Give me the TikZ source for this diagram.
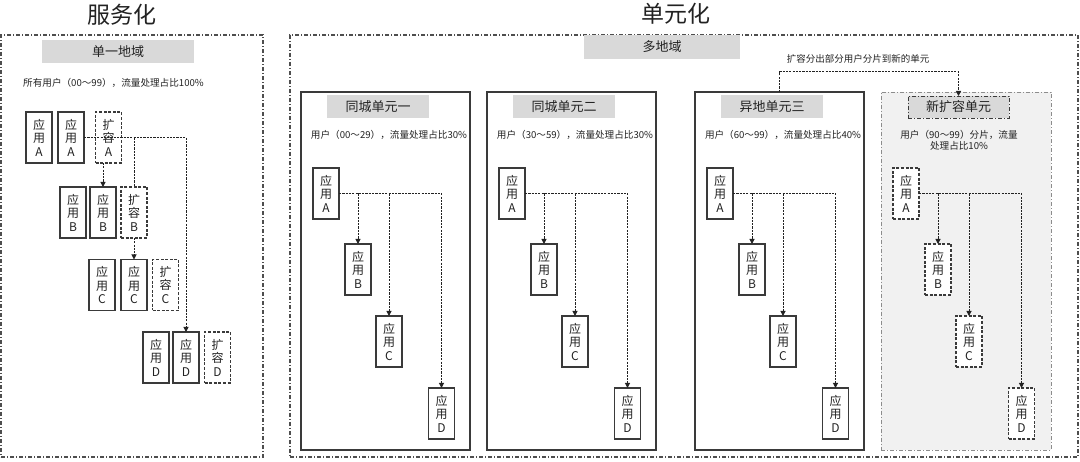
\documentclass[tikz,border=0pt]{standalone}
\usepackage{fontspec}
\setmainfont{Noto Sans CJK SC}
\usetikzlibrary{arrows.meta,calc}
\definecolor{labgray}{HTML}{D9D9D9}
\definecolor{newgray}{HTML}{F1F1F1}
\definecolor{ink}{HTML}{222222}
\definecolor{frame}{HTML}{3A3A3A}
\begin{document}
\begin{tikzpicture}[x=1pt,y=-1pt,
  every node/.style={inner sep=0pt,outer sep=0pt,text=ink},
  app/.style={draw=frame,line width=1.3pt,minimum width=26pt,minimum height=51pt,align=center,font=\fontsize{12}{13.5}\selectfont},
  appx/.style={app,dash pattern=on 3pt off 1.6pt},
  unitbox/.style={draw=frame,line width=1.5pt,minimum width=169pt,minimum height=358pt},
  lbl/.style={fill=labgray,minimum height=23pt,font=\fontsize{13}{13}\selectfont},
  small/.style={font=\fontsize{9.6}{11.5}\selectfont,align=center},
  outerbox/.style={draw=frame!90,line width=1.1pt,dash pattern=on 4pt off 2pt on 1pt off 2pt},
  conn/.style={draw=ink,line width=1pt,dash pattern=on 2.2pt off 1.1pt,-{Triangle[length=5pt,width=5pt]}},
  plain/.style={draw=ink,line width=1pt,dash pattern=on 2.2pt off 1.1pt},
  title/.style={font=\fontsize{23}{23}\selectfont}
]
\useasboundingbox (0,0) rectangle (1080,462);

% titles
\node[title] (t1) at (122,15) {服务化};
\node[title] (t2) at (676,14) {单元化};

% outer frames
\node[outerbox,minimum width=262pt,minimum height=422pt] (p1) at (132,246) {};
\node[outerbox,minimum width=788pt,minimum height=422pt] (p2) at (684,246) {};

% ---------- left panel ----------
\node[lbl,minimum width=152pt] (l0) at (118,51.5) {单一地域};
\node[small] (l0t) at (113.5,83) {所有用户（00～99），流量处理占比100\%};

\node[app]  (la1) at (39,137.5)  {应\\用\\A};
\node[app]  (la2) at (71,137.5)  {应\\用\\A};
\node[appx] (lxa) at (108.5,137.5) {扩\\容\\A};
\node[app]  (lb1) at (73,212.5)  {应\\用\\B};
\node[app]  (lb2) at (103,212.5) {应\\用\\B};
\node[appx] (lxb) at (134,212.5) {扩\\容\\B};
\node[app]  (lc1) at (102,285)   {应\\用\\C};
\node[app]  (lc2) at (134,285)   {应\\用\\C};
\node[appx] (lxc) at (165.5,285) {扩\\容\\C};
\node[app]  (ld1) at (156,357.5) {应\\用\\D};
\node[app]  (ld2) at (186,357.5) {应\\用\\D};
\node[appx] (lxd) at (217.5,357.5) {扩\\容\\D};

\draw[conn] (la2.east) -| (ld2.north);
\draw[conn] (lxa.south -| lb2.north) -- (lb2.north);
\draw[plain] (la2.east -| lxb.north) -- (lxb.north);
\draw[conn] (lxb.south) -- (lc2.north);

% ---------- right panel ----------
\node[lbl,minimum width=156pt,minimum height=24pt] (r0) at (662,47) {多地域};

\foreach \i/\dx/\lab/\txt in {1/0/同城单元一/用户（00～29），流量处理占比30\%,
                              2/186/同城单元二/用户（30～59），流量处理占比30\%,
                              3/394/异地单元三/用户（60～99），流量处理占比40\%}{
  \node[unitbox] (u\i) at (385.5+\dx,271) {};
  \node[lbl,minimum width=102pt] (ul\i) at (378+\dx,106.5) {\lab};
  \node[small] (ut\i) at (389+\dx,135) {\txt};
  \node[app] (a\i) at (326+\dx,193.5) {应\\用\\A};
  \node[app] (b\i) at (358+\dx,269.5) {应\\用\\B};
  \node[app] (c\i) at (389+\dx,341.5) {应\\用\\C};
  \node[app] (d\i) at (441.5+\dx,413.5) {应\\用\\D};
  \draw[conn] (a\i.east) -| (d\i.north);
  \draw[conn] (a\i.east -| b\i.north) -- (b\i.north);
  \draw[conn] (a\i.east -| c\i.north) -- (c\i.north);
}

% new unit
\node[fill=newgray,draw=black!45,line width=0.8pt,dash pattern=on 4pt off 2pt on 1pt off 2pt,
      minimum width=170pt,minimum height=358pt] (u4) at (966,271) {};
\node[lbl,minimum width=101pt,minimum height=22pt,draw=frame,line width=0.9pt,
      dash pattern=on 4pt off 2pt on 1pt off 2pt] (ul4) at (958.5,107) {新扩容单元};
\node[small] (ut4) at (959,140.5) {用户（90～99）分片，流量\\处理占比10\%};
\node[appx,fill=white] (a4) at (906,193.5) {应\\用\\A};
\node[appx,fill=white] (b4) at (938,269.5) {应\\用\\B};
\node[appx,fill=white] (c4) at (969,341.5) {应\\用\\C};
\node[appx,fill=white] (d4) at (1021.5,413.5) {应\\用\\D};
\draw[conn] (a4.east) -| (d4.north);
\draw[conn] (a4.east -| b4.north) -- (b4.north);
\draw[conn] (a4.east -| c4.north) -- (c4.north);

% split arrow
\coordinate (sp) at (779.5,72);
\draw[conn] (u3.north) -- (sp) -| (ul4.north);
\node[font=\fontsize{9.5}{9.5}\selectfont] (st) at (858,59) {扩容分出部分用户分片到新的单元};
\end{tikzpicture}
\end{document}
